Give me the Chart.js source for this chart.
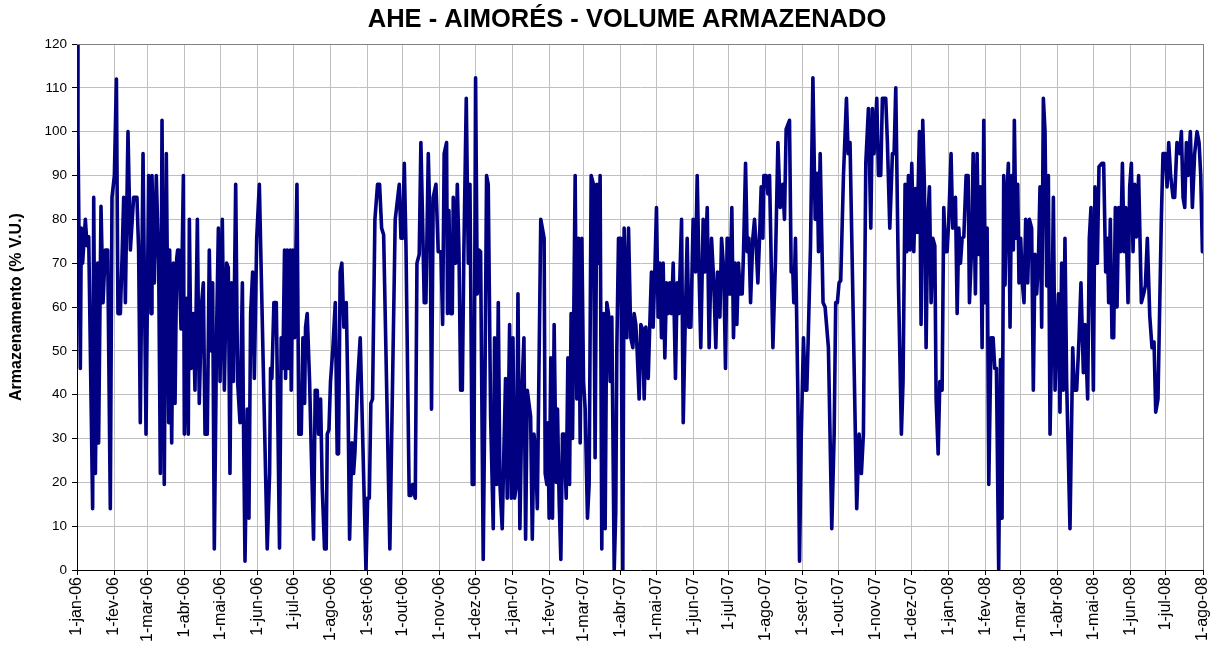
<!DOCTYPE html>
<html><head><meta charset="utf-8">
<script src="https://cdn.jsdelivr.net/npm/chart.js@4.4.0/dist/chart.umd.min.js"></script>
<style>html,body{margin:0;padding:0;background:#fff}#wrap{width:1217px;height:655px;position:relative}</style>
</head><body><div id="wrap"><canvas id="c" width="1217" height="655"></canvas></div>
<script>
const chartTitle = 'AHE - AIMORÉS - VOLUME ARMAZENADO';
const yAxisTitle = 'Armazenamento (% V.U.)';
const monthLabels = ['1-jan-06','1-fev-06','1-mar-06','1-abr-06','1-mai-06','1-jun-06','1-jul-06','1-ago-06','1-set-06','1-out-06','1-nov-06','1-dez-06',
  '1-jan-07','1-fev-07','1-mar-07','1-abr-07','1-mai-07','1-jun-07','1-jul-07','1-ago-07','1-set-07','1-out-07','1-nov-07','1-dez-07',
  '1-jan-08','1-fev-08','1-mar-08','1-abr-08','1-mai-08','1-jun-08','1-jul-08','1-ago-08'];
const yTicks = [0,10,20,30,40,50,60,70,80,90,100,110,120];
// days since 1-jan-06
const dayOffsets = [
0,0.8,2.8,3.6,4.7,7.0,8.4,9.8,13.1,14.0,15.4,17.3,18.1,20.1,21.8,23.7,25.7,27.9,29.3,31.3,33.0,34.3,36.3,37.7,39.1,40.5,42.7,44.7,47.4,50.2,51.6,53.0,55.3,57.8,60.0,62.0,62.8,64.8,66.4,68.4,69.8,71.2,73.1,74.8,76.8,
77.6,79.3,80.7,82.1,83.5,84.3,85.4,87.1,89.1,89.9,91.8,93.2,94.1,95.5,97.4,98.8,100.8,102.4,104.4,105.8,107.2,109.1,110.8,112.2,113.6,115.0,117.0,118.4,119.8,121.7,123.4,125.3,126.7,128.1,129.5,130.9,132.9,134.5,136.5,138.5,139.3,140.7,142.6,144.0,145.4,147.1,148.5,150.5,152.7,
159.3,161.3,162.1,163.2,164.9,166.9,169.6,171.0,172.4,173.8,174.7,176.1,177.2,178.6,179.4,180.8,182.2,184.2,185.8,187.8,189.2,190.6,191.4,192.8,194.8,196.2,198.1,199.5,201.2,202.3,204.0,205.4,207.3,208.7,209.6,211.0,212.3,214.3,216.3,217.9,219.0,220.4,221.8,223.5,225.5,226.9,228.3,230.2,231.6,
232.8,235.0,237.2,242.0,243.4,244.8,246.1,247.5,249.5,251.7,253.4,255.1,256.8,262.0,266.5,269.9,271.3,272.7,274.1,275.5,278.2,279.6,281.0,283.3,284.7,286.6,288.0,289.4,290.8,292.2,294.2,295.8,296.9,298.3,300.6,302.5,304.8,306.2,307.5,309.5,310.3,
311.5,312.9,314.3,315.1,317.1,318.5,319.9,321.3,322.7,324.0,326.0,327.7,329.1,331.0,332.4,333.8,335.2,336.6,338.0,340.2,341.6,343.0,344.4,346.4,348.6,349.7,351.4,352.8,354.2,356.1,357.5,358.9,360.3,362.3,363.7,365.1,366.5,368.1,369.3,370.9,372.9,374.3,375.7,377.1,378.5,379.9,381.3,382.7,384.1,385.5,386.8,388.4,
391.2,392.1,393.5,394.3,395.4,396.8,398.2,399.6,401.3,402.4,403.8,405.2,406.6,408.0,409.7,411.1,412.5,413.8,415.0,417.2,418.6,420.0,421.4,422.8,424.2,425.6,427.5,428.9,430.6,432.5,433.9,435.3,436.7,438.1,439.5,440.9,442.3,443.7,445.1,446.5,447.9,449.9,451.2,452.1,453.5,455.4,457.1,458.2,460.5,461.9,463.8,465.5,
466.6,468.0,469.1,470.8,472.2,473.6,475.0,476.4,478.4,479.7,481.1,482.5,483.9,485.3,486.7,488.1,489.5,490.9,492.3,493.7,495.1,496.5,497.9,499.3,501.2,502.6,504.0,506.3,507.7,509.1,511.0,512.4,514.1,516.0,518.0,519.4,520.8,522.4,524.4,525.8,527.8,529.4,531.4,533.3,535.0,536.4,538.4,539.8,541.7,543.1,544.5,
545.1,545.9,547.0,548.4,549.8,551.2,552.6,554.0,555.4,557.1,558.2,559.9,561.3,562.7,564.1,566.0,567.4,568.8,570.2,571.6,573.0,574.4,575.2,577.2,578.6,580.0,581.4,582.8,585.0,587.0,588.9,591.1,592.5,593.9,596.7,598.1,599.5,600.3,601.7,603.7,605.1,606.5,608.4,609.8,611.2,612.4,614.3,616.3,618.2,619.9,621.0,622.4,
624.8,626.5,629.3,632.1,634.1,635.4,636.8,638.2,639.6,641.9,644.4,645.8,647.4,653.0,655.0,656.9,658.6,660.6,662.8,664.8,666.1,667.5,669.8,671.2,673.1,674.5,677.3,678.7,680.7,682.9,684.3,685.7,687.9,690.4,691.8,693.5,694.9,696.3,697.7,699.1,
700.8,702.2,703.6,705.5,706.9,708.3,709.7,711.1,712.5,713.9,715.3,716.7,718.4,719.5,721.2,722.6,724.5,725.9,727.3,728.7,730.1,732.0,733.4,735.7,737.1,738.5,739.9,741.3,742.7,744.6,746.3,747.4,749.1,750.5,752.4,753.8,755.2,756.6,758.0,759.4,760.8,762.2,763.6,765.5,767.2,768.6,770.0,771.9,773.4,774.7,776.1,
777.2,778.6,780.0,781.4,782.8,784.2,785.0,786.4,787.8,788.9,790.3,791.7,793.1,794.5,796.2,797.6,799.5,800.9,802.3,803.7,805.1,806.5,807.9,809.3,810.7,812.1,813.5,814.9,816.3,817.7,819.1,820.5,821.9,823.2,824.6,826.0,827.4,828.8,831.6,833.9,835.2,837.2,839.2,840.8,842.8,844.2,846.4,847.8,849.2,851.2,852.5,854.5,855.9,
858.4,859.8,861.5,862.9,864.0,865.4,866.8,868.2,869.6,871.0,872.4,874.0,875.5,876.9,878.3,880.2,881.6,883.0,884.4,885.8,887.2,889.1,891.4,893.3,894.7,896.4,898.4,900.3,902.0,903.4,905.3,908.1,909.5,911.5,912.9,914.3,915.9,917.9,919.3,921.2,923.5,924.9,926.3,927.7,929.1,930.5,932.4,934.1,936.0,938.0,939.7,941.1,942.5
];
// stored volume, % V.U.
const volume = [
120,100,46,78,70,80,74,76,14,85,22,70,29,83,61,73,73,14,85,90,112,58.5,58.5,71,85,61,100,73,85,85,73,33.6,95,31,90,58.5,90,65.5,90,70,22,102.6,19.5,95,33.6,
73,29,70,38,71,73,73,55,90,31,62,31,80,46,58.5,41,80,38,61,65.5,31,31,73,50,65.5,4.8,56,78,43,80,41,70,69,22,65.5,43,88,43,33.6,65.5,36.7,2,36.7,11.8,58.5,68,43.7,75.7,88,
4.8,22,46,43.7,61,61,5,53,46,73,43.7,73,46,73,41,73,53,88,31,31,53,38,55.4,58.5,43,27,7,41,41,31,39,18.7,4.8,4.8,31,32,43,50.7,61,26.5,26.5,68,70,55.4,61,39.8,7,29,22,
27,43,53,0,16.4,16.4,38,39,80,88,88,78,76.5,4.8,80,88,75.7,75.7,92.8,74,17,17,19.5,16.4,70,72,97.5,80,61,61,95,77,36.7,85,88,72.6,72.6,56,95,97.5,58.5,
82,58.5,58.5,85,70,88,72.6,41,41,72.6,107.6,70,88,19.5,19.5,112.3,63,73,72.6,2.4,40,90,88,35,9.4,53,19.5,61,19.5,9.4,27,43.7,16.4,56,16.4,53,16.4,19.5,63,9.4,43,53,7,41,38,35,7,31,27,14,43.7,80,
75.7,22,19.5,33.6,11.8,48.4,11.8,56,20,36.7,15.7,2.4,31,31,16.4,48.4,19.5,58.5,30,90,39,75.7,29,75.7,43,36.7,11.8,19.5,90,88,25.6,88,70,90,4.8,58.5,9.4,61,58.5,43,57.7,0,13.3,50.7,75.7,75.7,0,78,53,78,53,50.7,
58.5,56,50,39,56,55,39,55.4,43.7,56,68,55.4,68,82.7,57.7,70,53,70,48.4,65.5,58.5,65.5,58.5,70,43.7,65.5,58.5,80,33.6,53,75.7,55.4,55.4,80,68,90,70,50.7,80,68,82.7,50.7,75.7,65.5,50.7,68,57.7,75.7,68,46,75.7,
63,72.6,63,82.7,53,70,56,70,63,63,72.6,92.8,72.6,75.7,61,75.7,80,74,65.5,75.7,87.4,75.7,90,90,85.8,90,70,50.7,71,97.5,82.7,88,80,100.6,102.6,68,68,61,75.7,40,2,30,53,41,41,53,74,112.3,80,90.5,72.6,95,
61,60,50.7,9.4,31,61,61,65.5,66,90,107.6,95,97.5,14,31,22,31,92.8,105.3,78,105.3,95,107.6,90,90,107.6,107.6,97.5,78,95,95,110,66,31,43,88,72.6,90,73,92.8,
72.6,87,77,100,56,102.6,87.4,50.7,80,87.4,61,75.7,74,39,26.5,43,41,82.7,72.6,72.6,80,95,78,85,58.5,78,70,75.7,76,90,90,61,72.6,95,63,95,72,87.4,50.7,102.6,61,78,19.5,53,53,46,46,0,48,11.8,90,
65,85,92.8,55.4,90,73,102.6,75.7,88,65.5,75.7,65.5,61,80,65.5,80,78,41,72,63,70,87.4,55.4,107.6,100,64.8,90,31,53,85,41,53,63,36,70,41,75.7,43,9.4,50.7,41,41,53,65.5,45,56,39,75.7,82.7,41,87.4,70,92,
92.8,92.8,68,75.7,61,80,53,53,82.7,60,82.7,72.6,92.8,72.6,82.7,61,87.4,92.8,72.6,88,76,90,61,63,64.8,75.7,58,50.7,52,36,39,80,95,95,87.4,97.5,90,85,85,97.5,95,100,85,82.7,97.5,90,100,82.7,95,100,97.5,90,72.6
];

const FONT = "Arial, 'Liberation Sans', sans-serif";
const monthIdx = {jan:0,fev:1,mar:2,abr:3,mai:4,jun:5,jul:6,ago:7,set:8,out:9,nov:10,dez:11};
const t0 = Date.UTC(2006,0,1);
const tickDays = monthLabels.map(l => { const p = l.split('-'); return (Date.UTC(2000 + (+p[2]), monthIdx[p[1]], +p[0]) - t0) / 86400000; });
const points = dayOffsets.map((d, i) => ({x: d, y: volume[i]}));

const titlePlugin = {
  id: 'mainTitle',
  afterDraw(chart) {
    const c = chart.ctx;
    c.save();
    c.font = 'bold 25.5px ' + FONT;
    c.fillStyle = '#000';
    c.textAlign = 'center';
    c.textBaseline = 'alphabetic';
    c.fillText(chartTitle, 627, 27);
    const a = chart.chartArea;
    c.strokeStyle = '#808080';
    c.lineWidth = 1;
    c.beginPath();
    c.moveTo(a.left, a.top + 0.5); c.lineTo(a.right + 0.5, a.top + 0.5); c.lineTo(a.right + 0.5, a.bottom);
    c.stroke();
    c.restore();
  }
};

new Chart(document.getElementById('c'), {
  type: 'line',
  data: { datasets: [{ data: points, borderColor: '#000080', backgroundColor: '#000080', borderWidth: 3.6,
    pointRadius: 0, tension: 0, fill: false, borderJoinStyle: 'round', borderCapStyle: 'round' }] },
  options: {
    responsive: false, animation: false, devicePixelRatio: 1,
    layout: { padding: { top: 44, right: 14, left: 0, bottom: 0 } },
    plugins: { legend: { display: false }, title: { display: false }, tooltip: { enabled: false } },
    scales: {
      x: {
        type: 'linear', min: 0, max: tickDays[tickDays.length - 1],
        afterBuildTicks: s => { s.ticks = tickDays.map(v => ({ value: v })); },
        ticks: { callback: (v, i) => monthLabels[i], maxRotation: 90, minRotation: 90, autoSkip: false,
          font: { size: 16, family: FONT }, color: '#000', padding: 2 },
        grid: { color: '#c0c0c0', lineWidth: 1, tickLength: 5, tickColor: '#000', drawTicks: true },
        border: { color: '#000', width: 1 },
        afterFit: s => { s.height = 85; s.paddingLeft = 0; s.paddingRight = 0; }
      },
      y: {
        min: 0, max: 120,
        afterBuildTicks: s => { s.ticks = yTicks.map(v => ({ value: v })); },
        ticks: { font: { size: 13.5, family: FONT }, color: '#000', padding: 5 },
        grid: { color: '#c0c0c0', lineWidth: 1, tickLength: 5, tickColor: '#000' },
        border: { color: '#000', width: 1 },
        title: { display: true, text: yAxisTitle, color: '#000', font: { size: 16, weight: 'bold', family: FONT }, padding: { top: 7, bottom: 0 } },
        afterFit: s => { s.width = 77; s.paddingTop = 0; s.paddingBottom = 0; }
      }
    }
  },
  plugins: [titlePlugin]
});
</script></body></html>
